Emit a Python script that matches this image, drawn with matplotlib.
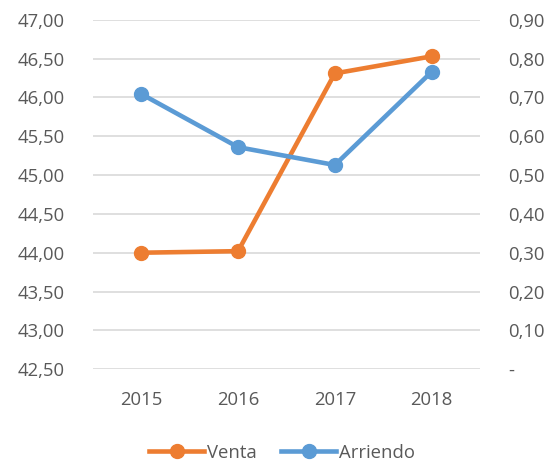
import numpy as np
import matplotlib.pyplot as plt
from matplotlib.ticker import FuncFormatter

plt.rcParams['font.family'] = ['Open Sans', 'DejaVu Sans']

years = ['2015', '2016', '2017', '2018']
venta = [44.00, 44.02, 46.31, 46.53]
arriendo = [0.709, 0.572, 0.526, 0.766]

c_venta = '#ED7D31'
c_arr = '#5B9BD5'
txt = '#595959'

fig = plt.figure(figsize=(5.53, 4.62), dpi=100)
ax = fig.add_axes([0.168, 0.201, 0.700, 0.756])
ax2 = ax.twinx()

x = np.arange(len(years))
l1, = ax.plot(x, venta, color=c_venta, lw=3.3, marker='o', ms=10, label='Venta', zorder=3)
l2, = ax2.plot(x, arriendo, color=c_arr, lw=3.3, marker='o', ms=10, label='Arriendo', zorder=3)

ax.set_xlim(-0.5, 3.5)
ax.set_ylim(42.5, 47.0)
ax.set_yticks(np.arange(42.5, 47.01, 0.5))
ax2.set_ylim(0, 0.9)
ax2.set_yticks(np.arange(0, 0.91, 0.1))

ax.yaxis.set_major_formatter(FuncFormatter(lambda v, p: ('%.2f' % v).replace('.', ',')))
ax2.yaxis.set_major_formatter(FuncFormatter(lambda v, p: '-' if abs(v) < 1e-9 else ('%.2f' % v).replace('.', ',')))

ax.set_xticks(x)
ax.set_xticklabels(years)
ax.grid(axis='y', color='#D9D9D9', lw=1.2)
ax.set_axisbelow(True)

for a in (ax, ax2):
    for s in a.spines.values():
        s.set_visible(False)
    a.tick_params(length=0, labelsize=13.3, colors=txt)
ax.tick_params(axis='y', pad=20)
ax2.tick_params(axis='y', pad=20)
ax.tick_params(axis='x', pad=16)

fig.legend([l1, l2], ['Venta', 'Arriendo'], loc='lower center', bbox_to_anchor=(0.51, -0.035),
           ncol=2, frameon=False, fontsize=13.3, labelcolor=txt, handlelength=3.0,
           handletextpad=0.15, columnspacing=1.3)

plt.savefig('out.png', dpi=100)
